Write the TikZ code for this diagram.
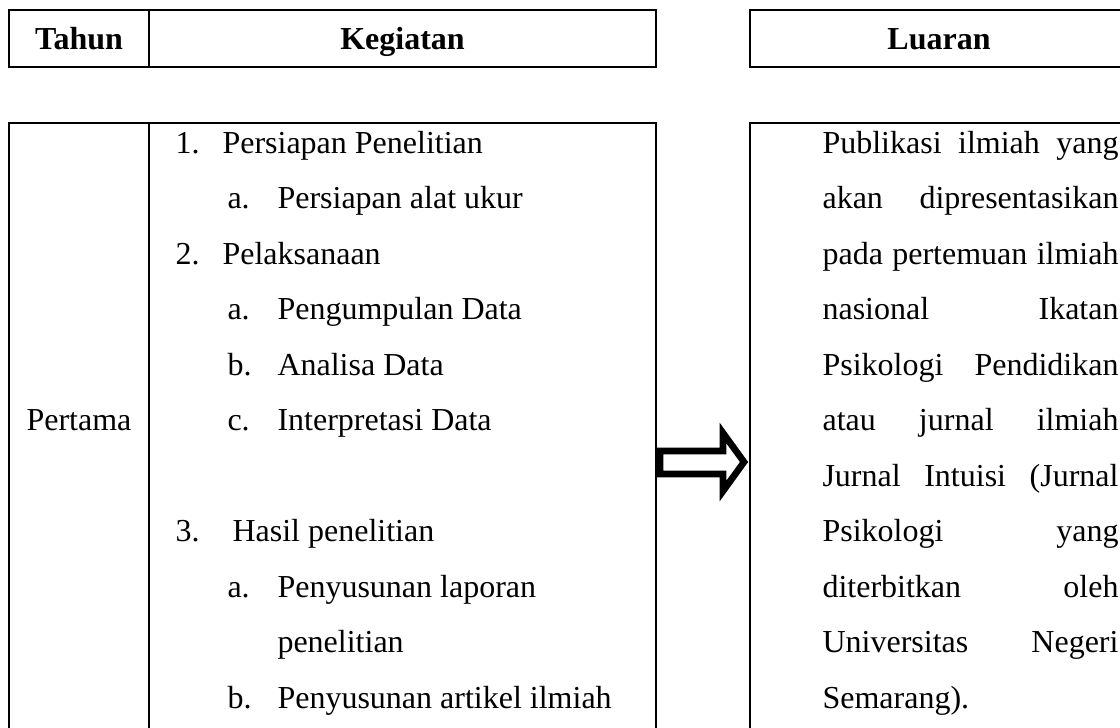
\documentclass[tikz,border=0pt]{standalone}
\usepackage{fontspec}
\setmainfont{Liberation Serif}
\newcommand\justline[1]{\makebox[111pt][s]{#1}}
\begin{document}
\begin{tikzpicture}[x=0.375pt,y=-0.375pt,
  box/.style={draw=black,line width=1pt},
  txt/.style={anchor=base west,inner sep=0pt,font=\fontsize{12}{14}\selectfont},
  ctxt/.style={anchor=base,inner sep=0pt,font=\fontsize{12}{14}\selectfont},
  hdr/.style={anchor=base,inner sep=0pt,font=\fontsize{12}{14}\selectfont\bfseries},
  blockarrow/.style={draw=black,fill=white,line width=2.5pt,miter limit=20}]
\useasboundingbox (0,0) rectangle (1120,727);
\clip (0,0) rectangle (1120,727);
% header boxes
\draw[box] (9,10) rectangle (656,67);
\draw[box] (149,10) -- (149,67);
\draw[box] (750,10) rectangle (1128,67);
\node[hdr] (hTahun) at (79,49) {Tahun};
\node[hdr] (hKeg) at (402.5,49) {Kegiatan};
\node[hdr] (hLuar) at (939,49) {Luaran};
% main boxes
\draw[box] (9,123) rectangle (656,760);
\draw[box] (149,123) -- (149,760);
\draw[box] (750,123) rectangle (1128,760);
\node[ctxt] (tahun1) at (79,430.5) {Pertama};
% activities
\node[txt] (n1) at (175,153) {1.};
\node[txt] (t1) at (222,153) {Persiapan Penelitian};
\node[txt] (n1a) at (227,208.5) {a.};
\node[txt] (t1a) at (277,208.5) {Persiapan alat ukur};
\node[txt] (n2) at (175,264) {2.};
\node[txt] (t2) at (222,264) {Pelaksanaan};
\node[txt] (n2a) at (227,319.5) {a.};
\node[txt] (t2a) at (277,319.5) {Pengumpulan Data};
\node[txt] (n2b) at (227,375) {b.};
\node[txt] (t2b) at (277,375) {Analisa Data};
\node[txt] (n2c) at (227,430.5) {c.};
\node[txt] (t2c) at (277,430.5) {Interpretasi Data};
\node[txt] (n3) at (175,541.5) {3.};
\node[txt] (t3) at (232,541.5) {Hasil penelitian};
\node[txt] (n3a) at (227,597) {a.};
\node[txt] (t3a) at (277,597) {Penyusunan laporan};
\node[txt] (t3a2) at (277,652.5) {penelitian};
\node[txt] (n3b) at (227,708) {b.};
\node[txt] (t3b) at (277,708) {Penyusunan artikel ilmiah};
% output text
\node[txt] (o1) at (822,153) {\justline{Publikasi ilmiah yang}};
\node[txt] (o2) at (822,208.5) {\justline{akan dipresentasikan}};
\node[txt] (o3) at (822,264) {\justline{pada pertemuan ilmiah}};
\node[txt] (o4) at (822,319.5) {\justline{nasional Ikatan}};
\node[txt] (o5) at (822,375) {\justline{Psikologi Pendidikan}};
\node[txt] (o6) at (822,430.5) {\justline{atau jurnal ilmiah}};
\node[txt] (o7) at (822,486) {\justline{Jurnal Intuisi (Jurnal}};
\node[txt] (o8) at (822,541.5) {\justline{Psikologi yang}};
\node[txt] (o9) at (822,597) {\justline{diterbitkan oleh}};
\node[txt] (o10) at (822,652.5) {\justline{Universitas Negeri}};
\node[txt] (o11) at (822,708) {Semarang).};
% block arrow
\draw[blockarrow] (660,451) -- (723,451) -- (723,433) -- (744,462) -- (723,491) -- (723,474) -- (660,474) -- cycle;
\end{tikzpicture}
\end{document}
